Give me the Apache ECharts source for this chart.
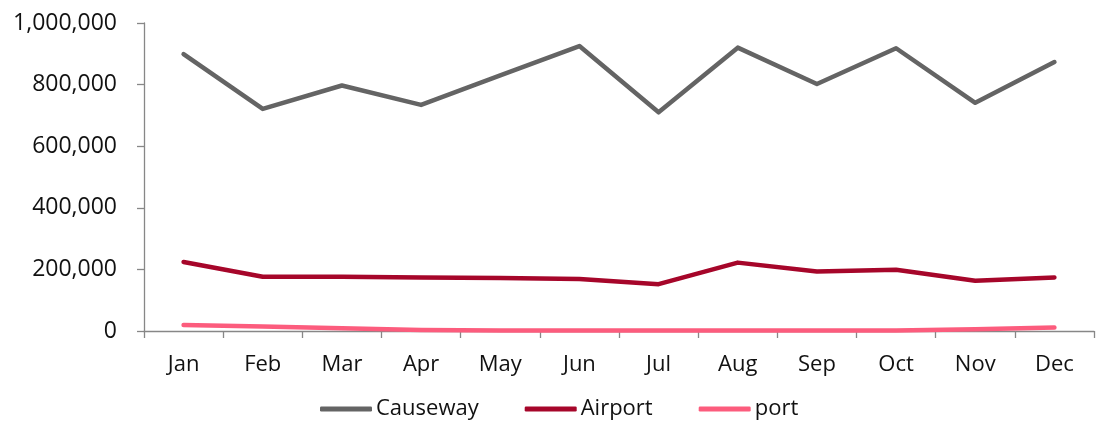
<!DOCTYPE html>
<html>
<head>
<meta charset="utf-8">
<script src="https://cdn.jsdelivr.net/npm/echarts@6/dist/echarts.min.js"></script>
<style>
html,body{margin:0;padding:0;background:#fff;}
#chart{width:1105px;height:424px;}
</style>
</head>
<body>
<div id="chart"></div>
<script>
const months = ['Jan','Feb','Mar','Apr','May','Jun','Jul','Aug','Sep','Oct','Nov','Dec'];
const causeway = [899000, 721000, 797000, 734000, 830000, 925000, 710000, 920000, 802000, 918000, 741000, 873000];
const airport  = [224000, 176000, 176000, 174000, 172000, 169000, 152000, 222000, 193000, 199000, 163000, 174000];
const port     = [19500, 15000, 9000, 3000, 2000, 2000, 2000, 2000, 2000, 2000, 6000, 11000];
const yTicks = [0, 200000, 400000, 600000, 800000, 1000000];

const FONT = 'Open Sans';
const chart = echarts.init(document.getElementById('chart'), null, {renderer:'canvas'});
function mk(name, data, color){
  return {name, type:'line', data, showSymbol:false, symbol:'none',
    lineStyle:{width:4.5, color, cap:'round', join:'round'}, itemStyle:{color}, animation:false};
}
chart.setOption({
  animation:false,
  textStyle:{fontFamily:FONT},
  grid:{left:144, right:11, top:23, bottom:93, containLabel:false},
  xAxis:{
    type:'category', data:months, boundaryGap:true,
    axisLine:{lineStyle:{color:'#878787', width:1.3}},
    axisTick:{show:true, length:7, lineStyle:{color:'#878787', width:1.3}},
    axisLabel:{color:'#111', fontSize:22, fontFamily:FONT, margin:23, interval:0}
  },
  yAxis:{
    type:'value', min:yTicks[0], max:yTicks[yTicks.length-1], interval:yTicks[1]-yTicks[0],
    axisLine:{show:true, lineStyle:{color:'#878787', width:1.3}},
    axisTick:{show:true, length:7, lineStyle:{color:'#878787', width:1.3}},
    splitLine:{show:false},
    axisLabel:{color:'#111', fontSize:23, fontFamily:FONT, margin:27,
      formatter:v=>v.toLocaleString('en-US')}
  },
  legend:{
    left:320, top:398, padding:0, itemWidth:52, itemHeight:5, itemGap:46, icon:'roundRect',
    textStyle:{fontSize:22, fontFamily:FONT, color:'#111', padding:[0,0,0,-1]},
    data:['Causeway','Airport','port']
  },
  series:[
    mk('Causeway', causeway, '#646464'),
    mk('Airport', airport, '#A6062A'),
    mk('port', port, '#FC5C7D')
  ]
});
</script>
</body>
</html>
